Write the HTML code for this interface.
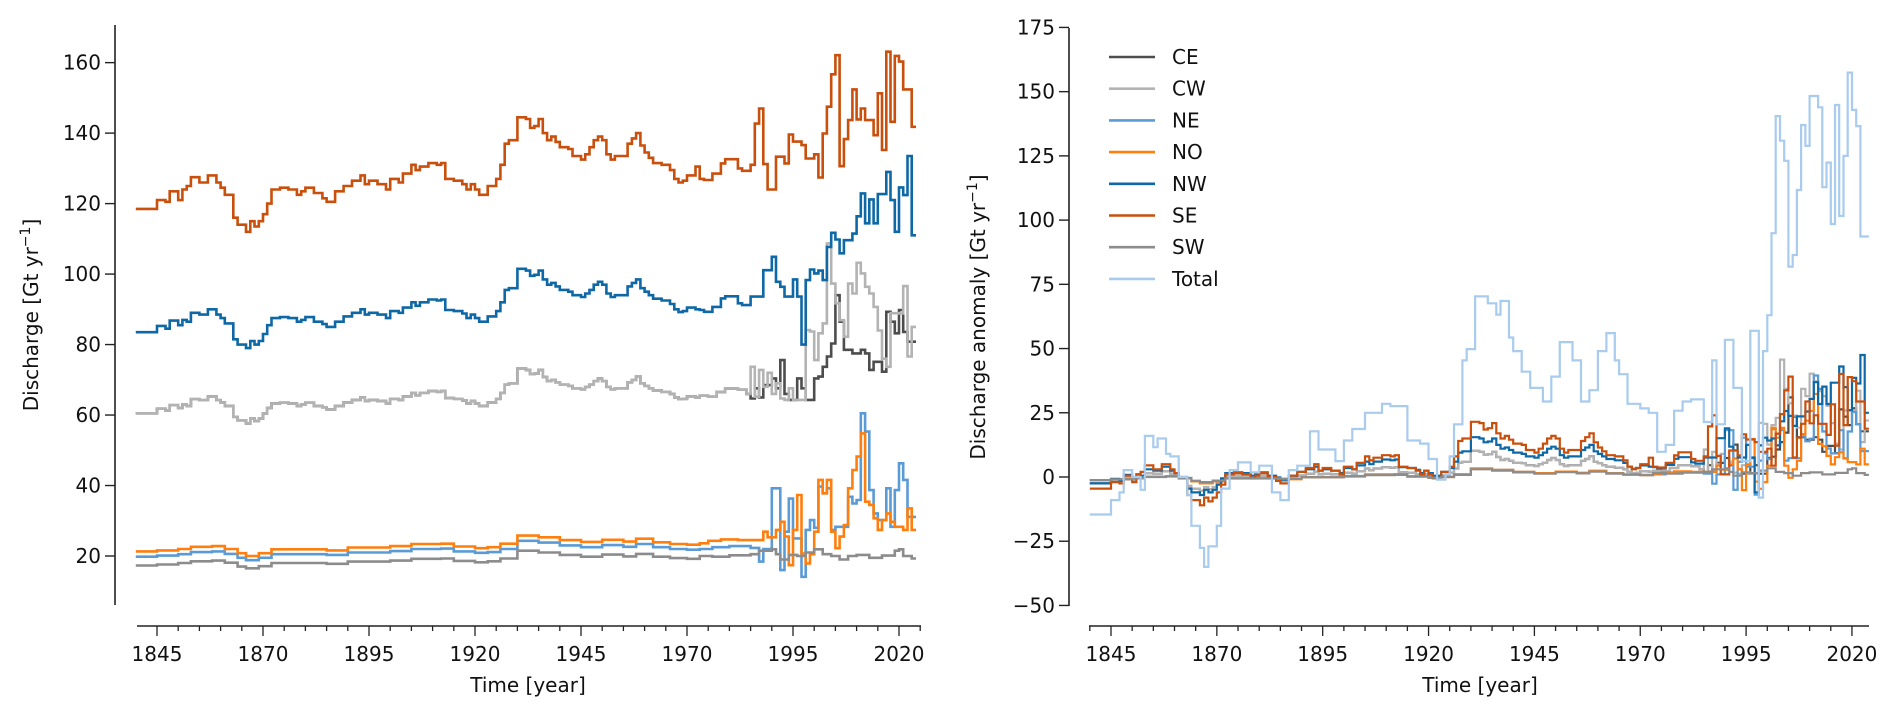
<!DOCTYPE html>
<html><head><meta charset="utf-8"><style>
body{margin:0;background:#fff}
svg{display:block;font-family:"DejaVu Sans","Liberation Sans",sans-serif}
</style></head><body>
<svg id="chart" width="1892" height="715" viewBox="0 0 1892 715">
<defs><clipPath id="clipR"><rect x="1069" y="20" width="810" height="590"/></clipPath></defs>
<g id="left"></g>
<g id="right"></g>
</svg>
<script>
// ---- data ----
const seriesNames = ["CE","CW","NE","NO","NW","SE","SW"];
const yrsEarly = [1840,1845,1847,1848,1850,1851,1852,1853,1855,1857,1859,1860,1861,1863,1864,1866,1867,1868,1869,1870,1871,1872,1874,1876,1878,1879,1880,1882,1884,1885,1887,1889,1891,1893,1894,1895,1897,1899,1900,1902,1903,1905,1906,1907,1909,1911,1912,1913,1915,1917,1918,1919,1920,1921,1923,1925,1926,1927,1928,1929,1930,1932,1933,1934,1935,1936,1937,1938,1939,1940,1942,1943,1945,1946,1947,1948,1949,1950,1951,1952,1953,1954,1956,1957,1958,1959,1960,1961,1962,1964,1966,1967,1968,1969,1970,1972];
const seEarly = [118.5,121,120.5,123.5,121,124,125,127.5,126,128,126,124.5,122.5,116,114,112,115,113.5,115,117,120,124,124.5,124,122.5,123.5,124.5,123,121.5,120.5,123.5,125,126.5,128,125.5,126.5,125.5,124,127,126,128.5,131,129.5,130.5,131.5,131,131.5,127,126.5,125.5,124,125.5,124,122.5,125,127,131,137,138,138,144.5,144,141.5,142,144,140,138,139,137.5,136,135.5,133.5,132.5,134,136,138,139,138,134,132.5,133.5,133.5,137,138.5,140,136.5,134.5,133,131.5,131,129.5,127,126,126.5,128,130.5];
const nwEarly = [83.5,85.3,84.5,86.8,85.5,87,86.5,89,88.5,90,88.5,87.5,86,81.5,80,79,81,80,81,83,85.5,87.5,87.8,87.5,86.5,87,87.8,86.5,85.8,85,86.5,88,89,90,88.5,89,88.5,87.5,89.5,89,90.5,92,91,92,92.8,92.5,92.8,89.8,89.5,88.8,87.5,88.5,87.5,86.5,88,89.5,92,95.5,96,96,101.5,101,99.5,99.8,101,98.5,97,97.5,96.5,95.5,95,94,93.5,94.5,95.5,97,97.8,97,94.5,93.5,94,94,96.5,97.5,98.5,96,95,94,93,92.5,91.5,90,89.2,89.5,90.5,90];
const cwEarly = [60.5,61.8,61.3,62.8,62,63,62.6,64.5,64.2,65.3,64.2,63.6,62.6,59.5,58.5,57.6,59,58.3,59,60.4,62,63.3,63.5,63.3,62.6,63,63.5,62.6,62.2,61.6,62.6,63.6,64.3,65,64,64.3,64,63.3,64.6,64.3,65.3,66.3,65.6,66.3,66.8,66.6,66.8,64.8,64.6,64.1,63.3,64,63.3,62.6,63.6,64.6,66.3,68.6,69,69,73.2,72.8,71.6,71.8,72.8,70.8,69.6,70,69.3,68.6,68.3,67.6,67.3,68,68.6,69.6,70.4,69.6,68,67.3,67.6,67.6,69.3,70,71,69,68.3,67.6,67,66.6,66,65,64.5,64.6,65.3,65];
const yrsCoarse = [1840,1845,1850,1853,1858,1861,1864,1866,1869,1872,1880,1885,1890,1900,1905,1912,1915,1920,1923,1926,1930,1935,1940,1945,1950,1955,1958,1962,1966,1970];
const noEarly = [21.3,21.6,22,22.6,22.8,22,20.8,20,20.8,21.9,21.9,21.6,22.4,22.8,23.4,23.5,22.7,22.2,22.5,23.5,25.8,25.3,24.5,24,24.6,24.1,24.9,23.9,23.4,23.2];
const neEarly = [19.8,20.1,20.5,21.1,21.3,20.6,19.5,18.8,19.5,20.5,20.5,20.3,21,21.4,22,22.1,21.3,20.9,21.1,22,24.3,23.8,23,22.5,23.1,22.6,23.4,22.5,22,21.8];
const swEarly = [17.3,17.6,18,18.5,18.7,18.1,17,16.5,17.1,18,18,17.8,18.4,18.7,19.2,19.3,18.6,18.2,18.5,19.3,21.5,21,20.3,19.8,20.4,19.9,20.6,19.8,19.4,19.2];

const seYrsLate = [1973,1974,1976,1978,1979,1982,1983,1985,1986,1987,1988,1989,1991,1993,1994,1995,1997,1998,2000,2001,2002,2003,2004,2005,2006,2007,2008,2009,2010,2011,2012,2014,2015,2016,2017,2018,2019,2020,2021,2023];
const seLate = [127,126.7,128.5,131.4,132.6,130,129.3,131,142.7,147,131.2,124,133.3,131.4,139.6,137.6,136.6,132.8,134,127.4,139.9,147.5,156.7,162.1,130.6,138.3,143.7,152.4,143.9,147,143.7,139.4,151.3,135.2,163.1,143.2,161.9,160.3,152.4,141.8];
const nwYrsLate = [1973,1974,1976,1978,1979,1982,1983,1985,1988,1990,1991,1992,1993,1995,1996,1997,1998,1999,2000,2001,2002,2003,2004,2005,2006,2007,2009,2010,2011,2012,2013,2014,2015,2017,2018,2019,2020,2021,2022,2023];
const nwLate = [89.8,89.3,90.7,93.1,93.7,91.7,91.2,93.6,101.1,104.9,97.8,96.4,93.6,98.5,93.6,80,98.3,101.3,100.2,101,98.3,107.7,111.7,109.8,105.9,109.6,111.5,116.4,122.9,114.4,121.2,114.4,122.7,129,121,112,124.6,122.4,133.5,111];
const cwYrsLate = [1973,1975,1977,1979,1982,1984,1985,1986,1987,1988,1989,1990,1991,1992,1993,1994,1995,1997,1998,1999,2000,2001,2002,2003,2004,2005,2006,2007,2008,2009,2010,2011,2012,2013,2014,2015,2016,2017,2018,2020,2021,2022,2023];
const cwLate = [65.5,65.2,66.5,67.5,67.2,66,73.7,65.2,72.8,68,72,66,69,64.7,64.3,67.6,64.3,64.3,84.1,83.7,75.6,83.2,86,108.7,97.3,91.7,86.9,82.2,97.3,94.5,103.2,100.2,96.4,94.5,90.7,84,76,73.7,88.9,88.8,96.6,76.6,85];
const ceYrsLate = [1985,1986,1987,1988,1990,1991,1992,1993,1994,1996,1997,1998,2000,2001,2002,2003,2004,2005,2006,2007,2009,2011,2012,2013,2014,2016,2017,2018,2019,2020,2021,2022];
const ceLate = [64.7,67.6,65,68.5,70.4,67.6,75.6,66,64.3,70.4,67.6,64.3,70.4,70.9,73.7,76.6,80.3,94,86.5,78.5,77.5,78.5,77.5,72.8,75.1,72.3,89.3,86.5,83.2,89.8,83.6,80.8];
const noYrsLate = [1973,1975,1978,1982,1988,1989,1991,1992,1993,1994,1995,1996,1997,1998,1999,2000,2001,2002,2003,2004,2005,2006,2007,2008,2009,2010,2011,2012,2013,2014,2015,2016,2017,2018,2019,2021,2022,2023];
const noLate = [23.6,24.3,24.7,24.5,26.9,25.3,27.4,29.7,25.5,17.4,27.4,37.3,20.7,17.9,20.5,26.9,41.6,37.8,41.6,26.9,22.2,25.5,28.8,39.2,44.4,48.2,54.8,35.4,34.5,30.7,27.4,30.2,32.1,29.7,28.3,27.4,33.5,27.4];
const neYrsLate = [1973,1976,1980,1985,1987,1988,1990,1992,1993,1994,1995,1997,1998,1999,2000,2001,2002,2003,2004,2005,2008,2009,2010,2011,2012,2013,2014,2015,2017,2018,2019,2020,2021,2022];
const neLate = [22,22.5,22.8,22.3,18.4,22,39.2,16,26.9,36.3,25,14.1,27.4,30.2,28,39.7,37.8,39.2,27.4,28.3,36.8,34.9,35.9,60.5,55.3,38.7,32.1,30.2,39.2,28.3,38.7,46.3,41.6,31.1];
const swYrsLate = [1973,1976,1980,1985,1987,1990,1991,1992,1994,1996,1998,2000,2002,2004,2006,2008,2010,2013,2016,2019,2020,2021,2023];
const swLate = [20,19.8,20.2,20.5,21.5,21.9,20.5,19,20.3,20,21,21.9,20.5,20,19,20,20.3,19.5,20.1,21.5,21.9,20,19.3];
const baselines = [63,63,21,22.5,86,123,18.5];
const totYrs = [1840,1845,1847,1848,1850,1852,1853,1855,1856,1858,1859,1861,1863,1864,1866,1867,1868,1870,1871,1873,1875,1878,1880,1883,1885,1887,1889,1892,1894,1898,1900,1902,1905,1909,1911,1915,1918,1920,1922,1924,1925,1926,1928,1929,1931,1934,1936,1937,1939,1940,1942,1944,1947,1949,1951,1954,1956,1958,1960,1962,1964,1965,1967,1970,1972,1974,1976,1978,1980,1982,1985,1987,1988,1990,1992,1994,1996,1998,1999,2000,2001,2002,2003,2004,2005,2006,2007,2008,2009,2010,2012,2013,2014,2015,2016,2017,2018,2019,2020,2021,2022];
const totVals = [-14.6,-9,-6,2.7,0,-5,16,11.6,15,9,8,0,-7,-19,-27.6,-35,-27,-19,-4.5,2.7,5.7,1.8,4.4,-6,-9,2.7,4.4,17.8,10.7,6.2,14.2,18.7,25,28.5,27.6,14.2,13,7,-1,1,8,20.5,45.4,49.8,70.3,67.6,63.2,68.5,54.3,49,41,34.7,29.4,39.1,52.5,45.4,29.4,33.8,49,56,45.4,40,28.5,26.7,25,9.8,12.5,25.8,29.4,30.2,21.4,45.4,20.5,53.4,34.7,6.2,56.9,-8,49,63,94.9,140.5,130.9,123.1,81.9,86.4,111.7,137,128.9,148.3,143.9,112.8,122.4,98.5,144.8,101.6,125,157.4,142.9,136.6,93.6];
const lastYear = 2024;
const leftTicksY = [20,40,60,80,100,120,140,160];
const rightTicksY = [-50,-25,0,25,50,75,100,125,150,175];
const ticksX = [1845,1870,1895,1920,1945,1970,1995,2020];

const colors = {CE:"#4d4d4d",CW:"#b3b3b3",NE:"#5b9bd5",NO:"#ff7f0e",NW:"#0f68a6",SE:"#c94f0c",SW:"#8c8c8c",Total:"#a8cbee"};
const series = {
  CE:{yrs:yrsEarly.concat([1973,1975,1977,1979,1982,1984]).concat(ceYrsLate), vals:cwEarly.concat([65.5,65.2,66.5,67.5,67.2,66]).concat(ceLate)},
  CW:{yrs:yrsEarly.concat(cwYrsLate), vals:cwEarly.concat(cwLate)},
  NE:{yrs:yrsCoarse.concat(neYrsLate), vals:neEarly.concat(neLate)},
  NO:{yrs:yrsCoarse.concat(noYrsLate), vals:noEarly.concat(noLate)},
  NW:{yrs:yrsEarly.concat(nwYrsLate), vals:nwEarly.concat(nwLate)},
  SE:{yrs:yrsEarly.concat(seYrsLate), vals:seEarly.concat(seLate)},
  SW:{yrs:yrsCoarse.concat(swYrsLate), vals:swEarly.concat(swLate)}
};

const NS="http://www.w3.org/2000/svg";
function mk(tag,attrs,parent){const e=document.createElementNS(NS,tag);for(const k in attrs)e.setAttribute(k,attrs[k]);parent.appendChild(e);return e;}

function stepPath(yrs,vals,X,Y){
  let d="M"+X(yrs[0]).toFixed(1)+","+Y(vals[0]).toFixed(1);
  for(let i=1;i<yrs.length;i++){d+="H"+X(yrs[i]).toFixed(1)+"V"+Y(vals[i]).toFixed(1);}
  d+="H"+X(lastYear).toFixed(1);return d;
}

function axes(g,X,Y,ticksY,yTop,yBot,axX,xL,xR,axisY,ylabel,xlabelX,ylabelX){
  const ya=mk("line",{x1:axX,x2:axX,y1:yTop,y2:yBot,stroke:"#222","stroke-width":1.6},g);
  
  ticksY.forEach(t=>{
    const y=Y(t);
    const tl=mk("line",{x1:axX-10,x2:axX,y1:y,y2:y,stroke:"#222","stroke-width":1.4},g);
    
    const tx=mk("text",{x:axX-14,y:y+7,"text-anchor":"end","font-size":20,fill:"#111"},g);
    tx.textContent=(t<0?"\u2212"+(-t):t);
    
  });
  const xa=mk("line",{x1:xL,x2:xR,y1:axisY,y2:axisY,stroke:"#222","stroke-width":1.6},g);
  
  for(let yr=1840;yr<=2025;yr+=5){
    const x=X(yr);if(x<xL-1||x>xR+1)continue;
    const major=ticksX.indexOf(yr)>=0;
    const tl=mk("line",{x1:x,x2:x,y1:axisY,y2:axisY+(major?10:5),stroke:"#222","stroke-width":1.3},g);
    
    if(major){const tx=mk("text",{x:x,y:661,"text-anchor":"middle","font-size":20,fill:"#111"},g);tx.textContent=yr;
      }
  }
  const xt=mk("text",{x:xlabelX,y:692,"text-anchor":"middle","font-size":20,fill:"#111"},g);
  xt.textContent="Time [year]";
  
  const cy=(yTop+yBot)/2;
  const yt=mk("text",{x:ylabelX,y:cy,"text-anchor":"middle","font-size":20,fill:"#111",transform:"rotate(-90 "+ylabelX+" "+cy+")"},g);
  
  yt.appendChild(document.createTextNode(ylabel+" [Gt yr"));
  const sup=mk("tspan",{dy:-8,"font-size":14},yt);sup.textContent="\u22121";
  const cl=mk("tspan",{dy:8},yt);cl.textContent="]";
}

// left panel
const L=document.getElementById("left");
const XL=yr=>157+(yr-1845)*4.24;
const YL=v=>556-(v-20)*3.524;
axes(L,XL,YL,leftTicksY,25,605,115,137,921,626,"Discharge",528,38);
seriesNames.forEach(n=>{
  const s=series[n];
  const p=mk("path",{d:stepPath(s.yrs,s.vals,XL,YL),fill:"none",stroke:colors[n],"stroke-width":2.6},L);
  
  
});

// right panel
const R=document.getElementById("right");
const XR=yr=>1111+(yr-1845)*4.234;
const YR=v=>477-v*2.569;
axes(R,XR,YR,rightTicksY,28,606,1069,1089,1869,626,"Discharge anomaly",1480,985);
const lines=mk("g",{"clip-path":"url(#clipR)"},R);


seriesNames.forEach((n,i)=>{
  const s=series[n];
  const an=s.vals.map(v=>v-baselines[i]);
  const p=mk("path",{d:stepPath(s.yrs,an,XR,YR),fill:"none",stroke:colors[n],"stroke-width":2.2},lines);
  
  
});
const tp=mk("path",{d:stepPath(totYrs,totVals,XR,YR),fill:"none",stroke:colors.Total,"stroke-width":2.2},lines);



// legend
const leg=mk("g",{},R);


seriesNames.concat(["Total"]).forEach((n,i)=>{
  const y=57+i*31.7;
  const e=mk("g",{},leg);
  
  
  mk("line",{x1:1109,x2:1155,y1:y,y2:y,stroke:colors[n],"stroke-width":2.6},e);
  const t=mk("text",{x:1172,y:y+7,"font-size":20,fill:"#111"},e);t.textContent=n;
});
</script>
</body></html>
